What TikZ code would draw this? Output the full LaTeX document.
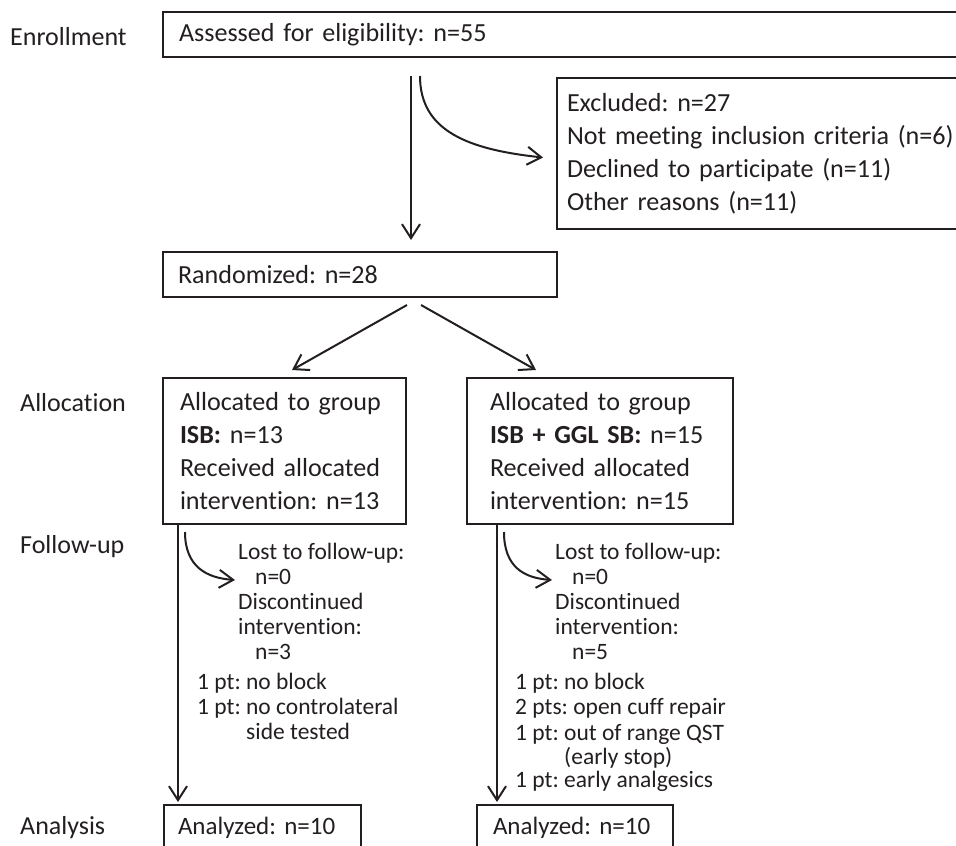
\documentclass[tikz,border=0pt]{standalone}
\usepackage{fontspec}
\setmainfont{Carlito}[Ligatures={NoCommon}]
\usetikzlibrary{arrows.meta,calc}
\definecolor{ink}{RGB}{35,31,32}
\frenchspacing
\begin{document}
\begin{tikzpicture}[x=1pt,y=-1pt,
  box/.style={draw=ink, line width=1.4pt, anchor=north west, align=left, inner ysep=0pt, outer sep=0pt, text=ink, font=\frenchspacing\fontsize{26.1}{33}\selectfont},
  arr/.style={draw=ink, line width=2pt, -{Straight Barb[length=14pt,width=18pt]}},
  lab/.style={anchor=base west, inner sep=0pt, text=ink, font=\frenchspacing\fontsize{26}{33}\selectfont},
  fu/.style={anchor=base west, inner sep=0pt, text=ink, font=\frenchspacing\fontsize{23.5}{25}\selectfont},
]
\useasboundingbox (0,0) rectangle (956,846);
\clip (0,0) rectangle (956,846);

% stage labels
\node[lab] (lEnr) at (10,45.5) {Enrollment};
\node[lab] (lAll) at (20,411.5) {Allocation};
\node[lab] (lFol) at (20,553) {Follow-up};
\node[lab] (lAna) at (20,834) {Analysis};

% boxes
\node[box, minimum width=810pt, minimum height=45pt, text width=778pt, inner xsep=16pt] (assess) at (163,12) {\mbox{Assessed for eligibility: n=55}};
\node[box, minimum width=420pt, minimum height=151pt, text width=400pt, inner xsep=10pt] (excl) at (557,78) {Excluded: n=27\\\mbox{Not meeting inclusion criteria (n=6)}\\Declined to participate (n=11)\\Other reasons (n=11)};
\node[box, minimum width=394pt, minimum height=45pt, text width=364pt, inner xsep=15pt] (rand) at (163,252) {\mbox{Randomized: n=28}};
\node[box, minimum width=243pt, minimum height=146pt, text width=209pt, inner xsep=17pt] (allocL) at (163,378) {\mbox{Allocated to group}\\\mbox{\textbf{ISB:} n=13}\\\mbox{Received allocated}\\\mbox{intervention: n=13}};
\node[box, minimum width=266pt, minimum height=146pt, text width=220pt, inner xsep=23pt] (allocR) at (467,378) {\mbox{Allocated to group}\\\mbox{\textbf{ISB + GGL SB:} n=15}\\\mbox{Received allocated}\\\mbox{intervention: n=15}};
\node[box, font=\frenchspacing\fontsize{25}{30}\selectfont, minimum width=197pt, minimum height=45pt, text width=169pt, inner xsep=14pt] (anL) at (164,805) {\mbox{Analyzed: n=10}};
\node[box, font=\frenchspacing\fontsize{25}{30}\selectfont, minimum width=196pt, minimum height=45pt, text width=164pt, inner xsep=16pt] (anR) at (477,805) {\mbox{Analyzed: n=10}};

% follow-up texts, left
\node[fu] (lfL) at (238,559) {Lost to follow-up:};
\node[fu] (n0L) at (255,584) {n=0};
\node[fu] (dcL) at (238,609) {Discontinued};
\node[fu] (ivL) at (238,634) {intervention:};
\node[fu] (n3L) at (255,659) {n=3};
\node[fu] (r1L) at (197,689) {1 pt: no block};
\node[fu] (r2L) at (197,714) {1 pt: no controlateral};
\node[fu] (r3L) at (246,739) {side tested};

% follow-up texts, right
\node[fu] (lfR) at (555,559) {Lost to follow-up:};
\node[fu] (n0R) at (572,584) {n=0};
\node[fu] (dcR) at (555,609) {Discontinued};
\node[fu] (ivR) at (555,634) {intervention:};
\node[fu] (n5R) at (572,659) {n=5};
\node[fu] (r1R) at (515,689) {1 pt: no block};
\node[fu] (r2R) at (515,714) {2 pts: open cuff repair};
\node[fu] (r3R) at (515,740) {1 pt: out of range QST};
\node[fu] (r4R) at (564,764) {(early stop)};
\node[fu] (r5R) at (515,787) {1 pt: early analgesics};

% connectors
\draw[arr] ($(assess.south west)+(248,19)$) -- ($(rand.north west)+(248,-12)$);
\draw[arr] ($(assess.south west)+(257,19)$) .. controls +(0,55) and +(-75,-8) .. ($(excl.west)+(-14,4)$);
\draw[arr] ($(rand.south west)+(244,8)$) -- ($(allocL.north west)+(129,-8)$);
\draw[arr] ($(rand.south west)+(258,8)$) -- ($(allocR.north west)+(69,-8)$);

\draw[arr] ($(allocL.south west)+(15,0)$) -- ($(anL.north west)+(14,-3)$);
\draw[arr] ($(allocL.south west)+(22,8)$) .. controls +(0,35) and +(-28,-2) .. ($(n0L.base west)+(-20,-4)$);
\draw[arr] ($(allocR.south west)+(30,0)$) -- ($(anR.north west)+(20,-3)$);
\draw[arr] ($(allocR.south west)+(37,8)$) .. controls +(0,35) and +(-28,-2) .. ($(n0R.base west)+(-20,-4)$);
\end{tikzpicture}
\end{document}
